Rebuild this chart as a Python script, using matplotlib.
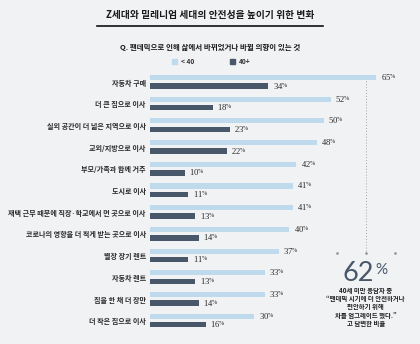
import matplotlib
matplotlib.use("Agg")
import matplotlib.pyplot as plt

plt.rcParams['font.family'] = ['Noto Sans CJK KR', 'DejaVu Sans']
plt.rcParams['mathtext.fontset'] = 'custom'
plt.rcParams['mathtext.it'] = 'Liberation Serif:italic'
plt.rcParams['mathtext.rm'] = 'Liberation Serif'

title = "Z세대와 밀레니엄 세대의 안전성을 높이기 위한 변화"
subtitle = "Q. 팬데믹으로 인해 삶에서 바뀌었거나 바뀔 의향이 있는 것"
series_names = ["< 40", "40+"]
categories = [
    "자동차 구매",
    "더 큰 집으로 이사",
    "실외 공간이 더 넓은 지역으로 이사",
    "교외/지방으로 이사",
    "부모/가족과 함께 거주",
    "도시로 이사",
    "재택 근무 때문에 직장·학교에서 먼 곳으로 이사",
    "코로나의 영향을 더 적게 받는 곳으로 이사",
    "별장 장기 렌트",
    "자동차 렌트",
    "집을 한 채 더 장만",
    "더 작은 집으로 이사",
]
under_40 = [65, 52, 50, 48, 42, 41, 41, 40, 37, 33, 33, 30]
over_40 = [34, 18, 23, 22, 10, 11, 13, 14, 11, 13, 14, 16]
highlight_value = 62
note_lines = [
    "40세 미만 응답자 중",
    "“팬데믹 시기에 더 안전하거나",
    "편안하기 위해",
    "차를 업그레이드 했다.”",
    "고 답변한 비율",
]

W, H = 420, 344
BG = "#f1f2f4"
LIGHT = "#bfdaec"
DARK = "#48586a"
TXT = "#2a2a2a"

fig = plt.figure(figsize=(W / 100, H / 100), dpi=100, facecolor=BG)

def fx(px):
    return px / W

def fy(py):
    return 1 - py / H

# plotting area: value 0 at x=150px, 3.48 px per percent; row pitch 21.7 px
x0_px, px_per = 150, 3.48
row0_px, pitch = 81.75, 21.7
ax = fig.add_axes([fx(x0_px), 0, 1 - fx(x0_px), 1])
ax.set_facecolor(BG)
ax.set_xlim(0, (W - x0_px) / px_per)
ax.set_ylim((H - row0_px) / pitch, -row0_px / pitch)
ax.axis("off")

rows = list(range(len(categories)))
off = 0.196
ax.barh([r - off for r in rows], under_40, height=0.235, color=LIGHT, zorder=2)
ax.barh([r + off for r in rows], over_40, height=0.255, color=DARK, zorder=2)

def pct(v):
    return r"$\mathit{%d}^{\mathit{\%%}}$" % v

for r, cat, a, b in zip(rows, categories, under_40, over_40):
    ax.annotate(cat, (0, r + 0.06), xytext=(-3, 0), textcoords="offset points",
                ha="right", va="center", fontsize=5.1, fontweight="bold", color=TXT)
    ax.annotate(pct(a), (a, r - off), xytext=(3.2, 0), textcoords="offset points",
                ha="left", va="center", fontsize=6.2, color=TXT)
    ax.annotate(pct(b), (b, r + off), xytext=(3.2, 0), textcoords="offset points",
                ha="left", va="center", fontsize=6.2, color=TXT)

# reference line for the highlighted share
y_end = (253 - row0_px) / pitch
ax.plot([highlight_value, highlight_value], [-0.33, y_end], color="#9ea3a9",
        lw=0.7, ls=(0, (1, 2)), zorder=1)
ax.scatter([highlight_value - 8.3, highlight_value, highlight_value + 8.3],
           [y_end] * 3, s=0.8, color="#8e9298", zorder=1)

# header
fig.text(0.5, fy(15), title, ha="center", va="center", fontsize=7.0,
         fontweight="bold", color="#1a1a1a")
fig.add_artist(plt.Line2D([fx(97), fx(323)], [fy(25.5), fy(25.5)],
                          color="#111111", lw=1.2))
fig.text(0.5, fy(47), subtitle, ha="center", va="center", fontsize=5.4,
         fontweight="bold", color="#1a1a1a")

# legend
for sx, col, name in [(172, LIGHT, series_names[0]), (230, DARK, series_names[1])]:
    fig.add_artist(plt.Rectangle((fx(sx), fy(64)), fx(5), 5 / H, color=col))
    fig.text(fx(sx + 9), fy(61.5), name, ha="left", va="center", fontsize=4.8,
             fontweight="bold", color="#333333")

# highlighted figure
hx_px = x0_px + highlight_value * px_per
fig.text(fx(hx_px - 8), fy(281), str(highlight_value), ha="center", va="baseline",
         fontsize=19.5, family="Lato", fontweight="normal", color=DARK)
fig.text(fx(hx_px + 16), fy(263), "%", ha="center", va="top",
         fontsize=11, family="Lato", fontweight="normal", color=DARK)
for i, line in enumerate(note_lines):
    fig.text(fx(hx_px), fy(290 + i * 8.4), line, ha="center", va="center",
             fontsize=4.6, fontweight="bold", color="#1e1e1e")

fig.savefig("out.png", dpi=100, facecolor=BG)
